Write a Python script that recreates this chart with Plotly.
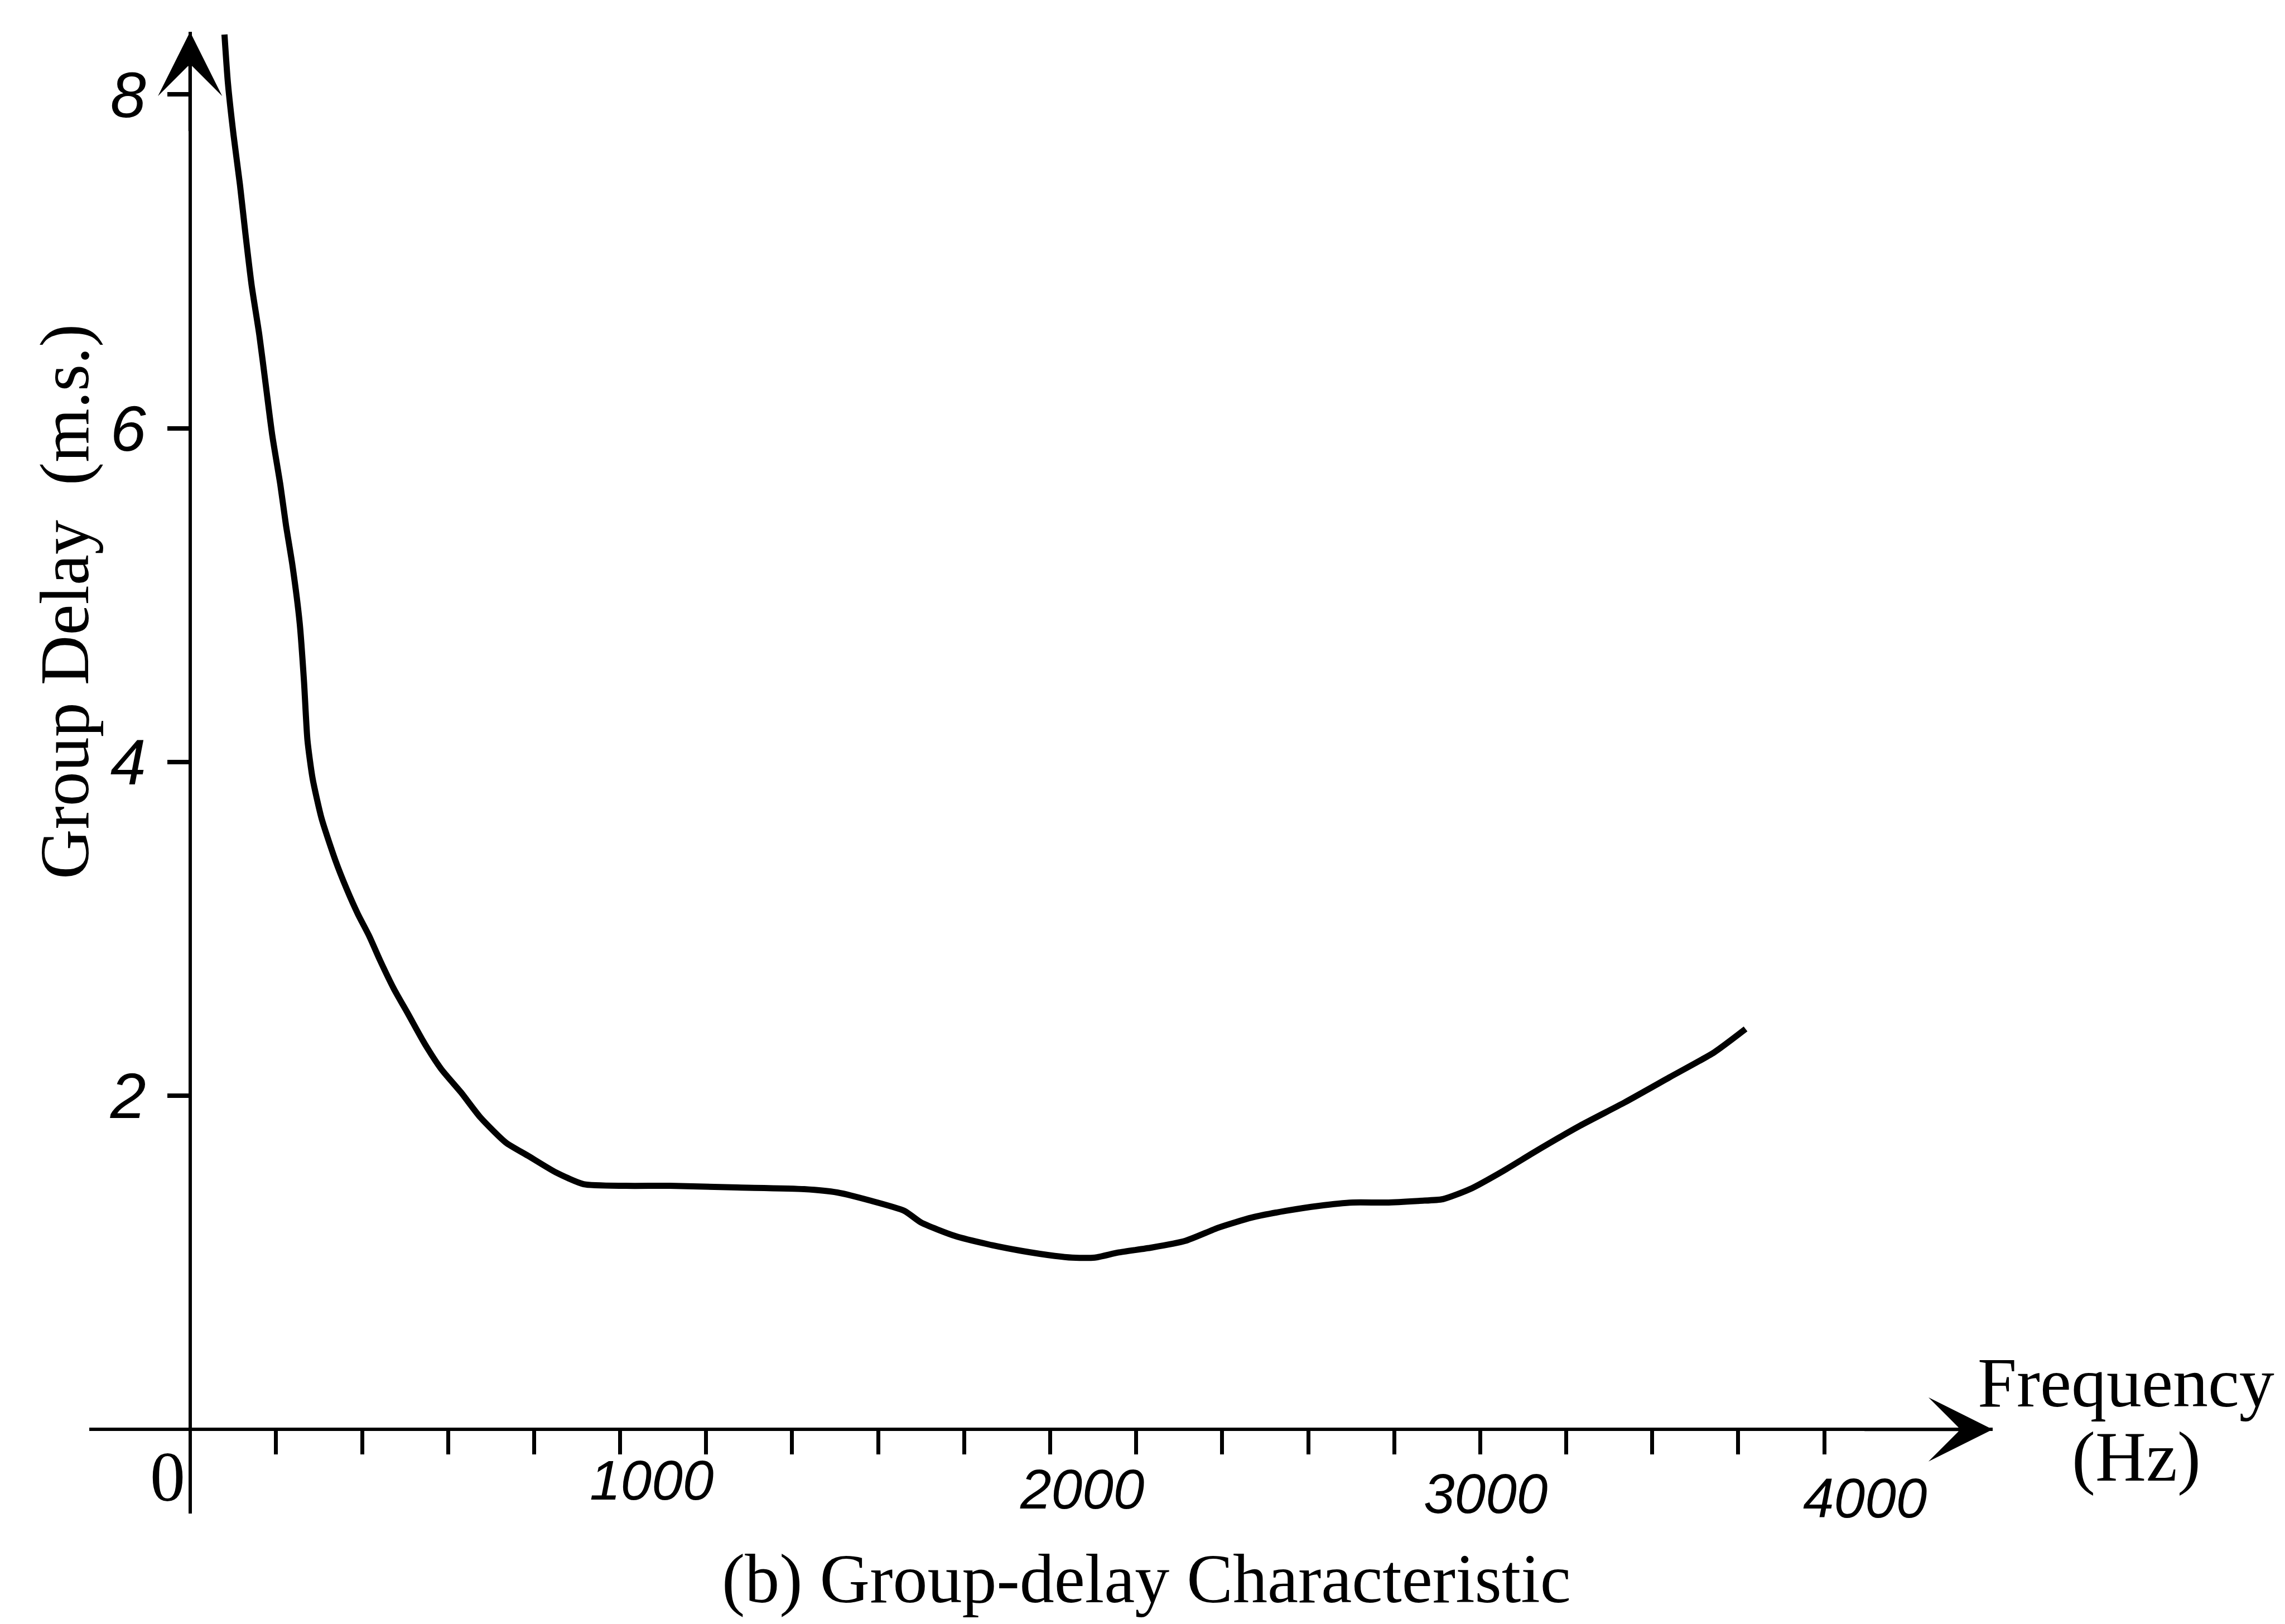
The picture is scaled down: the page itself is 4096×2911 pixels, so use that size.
import plotly.graph_objects as go

# ---------------- data ----------------
freq_hz = [80, 88, 101, 116, 129, 143, 161, 176, 191, 210, 223, 238, 255, 265, 273,
           285, 306, 338, 364, 390, 416, 442, 474, 507, 546, 584, 630, 675, 734, 786,
           851, 915, 1013, 1116, 1272, 1428, 1505, 1584, 1661, 1700, 1778, 1855, 1934,
           2011, 2051, 2104, 2158, 2236, 2314, 2392, 2469, 2548, 2625, 2704, 2781, 2859,
           2913, 2976, 3054, 3131, 3232, 3336, 3440, 3544, 3617]
delay_ms = [8.36, 8.07, 7.76, 7.46, 7.16, 6.86, 6.56, 6.26, 5.96, 5.66, 5.42, 5.18, 4.83, 4.48, 4.13,
            3.90, 3.66, 3.41, 3.24, 3.09, 2.96, 2.81, 2.64, 2.49, 2.31, 2.16, 2.02, 1.87, 1.72, 1.64,
            1.54, 1.47, 1.46, 1.46, 1.45, 1.44, 1.42, 1.37, 1.31, 1.24, 1.16, 1.11, 1.07,
            1.04, 1.03, 1.03, 1.06, 1.09, 1.13, 1.21, 1.27, 1.31, 1.34, 1.36, 1.36, 1.37,
            1.38, 1.44, 1.55, 1.67, 1.82, 1.96, 2.11, 2.26, 2.40]

x_tick_vals = [200, 400, 600, 800, 1000, 1200, 1400, 1600, 1800, 2000,
               2200, 2400, 2600, 2800, 3000, 3200, 3400, 3600, 3800]
x_label_vals = [1000, 2000, 3000, 4000]
x_label_text = ["1000", "2000", "3000", "4000"]
y_tick_vals = [2, 4, 6, 8]
y_tick_text = ["2", "4", "6", "8"]

x_title = "Frequency"
x_unit = "(Hz)"
y_title = "Group Delay  (m.s.)"
caption = "(b) Group-delay Characteristic"

# ---------------- layout geometry ----------------
W, H = 4096, 2911
ML, MR, MT, MB = 160, 524, 57, 198
PW, PH = W - ML - MR, H - MT - MB
X_RANGE = [-234.4, 4191.6]
Y_RANGE = [-0.504, 8.376]


def px_to_paper_x(px):
    return (px - ML) / PW


def px_to_paper_y(py):
    return (H - MB - py) / PH


SERIF = "Liberation Serif"
HAND = "Liberation Sans"

fig = go.Figure()
fig.add_trace(go.Scatter(
    x=freq_hz, y=delay_ms, mode="lines",
    line=dict(color="black", width=11, shape="spline", smoothing=0.6),
    showlegend=False, hoverinfo="skip", cliponaxis=False,
))

annotations = []
# axis arrowheads
annotations.append(dict(x=X_RANGE[1], y=0, ax=X_RANGE[1] - 300, ay=0,
                        xref="x", yref="y", axref="x", ayref="y", text="",
                        showarrow=True, arrowhead=3, arrowsize=3.2, arrowwidth=6,
                        arrowcolor="black"))
annotations.append(dict(x=0, y=Y_RANGE[1], ax=0, ay=Y_RANGE[1] - 0.6,
                        xref="x", yref="y", axref="x", ayref="y", text="",
                        showarrow=True, arrowhead=3, arrowsize=3.2, arrowwidth=6,
                        arrowcolor="black"))

# hand-written frequency labels (hand placement offsets)
x_label_xshift = [56, 57, 10, -81]
x_label_yshift = [-91, -107, -115, -123]
for v, t, dx, dy in zip(x_label_vals, x_label_text, x_label_xshift, x_label_yshift):
    annotations.append(dict(x=v, y=0, xref="x", yref="y", text="<i>" + t + "</i>",
                            showarrow=False, xanchor="center", yanchor="middle",
                            xshift=dx, yshift=dy,
                            font=dict(family=HAND, size=100, color="black")))

# origin label
annotations.append(dict(x=0, y=0, xref="x", yref="y", text="0", showarrow=False,
                        xanchor="center", yanchor="middle", xshift=-40, yshift=-85,
                        font=dict(family=SERIF, size=126, color="black")))

# axis titles and caption
annotations.append(dict(x=px_to_paper_x(116), y=px_to_paper_y(1079), xref="paper", yref="paper",
                        text=y_title, textangle=-90, showarrow=False,
                        xanchor="center", yanchor="middle",
                        font=dict(family=SERIF, size=124, color="black")))
annotations.append(dict(x=px_to_paper_x(3811), y=px_to_paper_y(2478), xref="paper", yref="paper",
                        text=x_title, showarrow=False, xanchor="center", yanchor="middle",
                        font=dict(family=SERIF, size=126, color="black")))
annotations.append(dict(x=px_to_paper_x(3830), y=px_to_paper_y(2612), xref="paper", yref="paper",
                        text=x_unit, showarrow=False, xanchor="center", yanchor="middle",
                        font=dict(family=SERIF, size=126, color="black")))
annotations.append(dict(x=px_to_paper_x(2055), y=px_to_paper_y(2830), xref="paper", yref="paper",
                        text=caption, showarrow=False, xanchor="center", yanchor="middle",
                        font=dict(family=SERIF, size=124, color="black")))

fig.update_layout(
    width=W, height=H,
    margin=dict(l=ML, r=MR, t=MT, b=MB, pad=0),
    paper_bgcolor="white", plot_bgcolor="white",
    showlegend=False,
    annotations=annotations,
    xaxis=dict(range=X_RANGE, anchor="free", position=-Y_RANGE[0] / (Y_RANGE[1] - Y_RANGE[0]),
               showline=True, linewidth=6, linecolor="black",
               ticks="outside", tickvals=x_tick_vals, ticklen=42, tickwidth=7, tickcolor="black",
               showticklabels=False, showgrid=False, zeroline=False, fixedrange=True),
    yaxis=dict(range=Y_RANGE, anchor="free", position=-X_RANGE[0] / (X_RANGE[1] - X_RANGE[0]),
               showline=True, linewidth=6, linecolor="black",
               ticks="outside", tickvals=y_tick_vals,
               ticktext=["<i>" + t + "</i>" for t in y_tick_text],
               ticklen=38, tickwidth=8, tickcolor="black", ticklabelstandoff=15,
               tickfont=dict(family=HAND, size=115, color="black"),
               showgrid=False, zeroline=False, fixedrange=True),
)

fig.write_html("out.html")
